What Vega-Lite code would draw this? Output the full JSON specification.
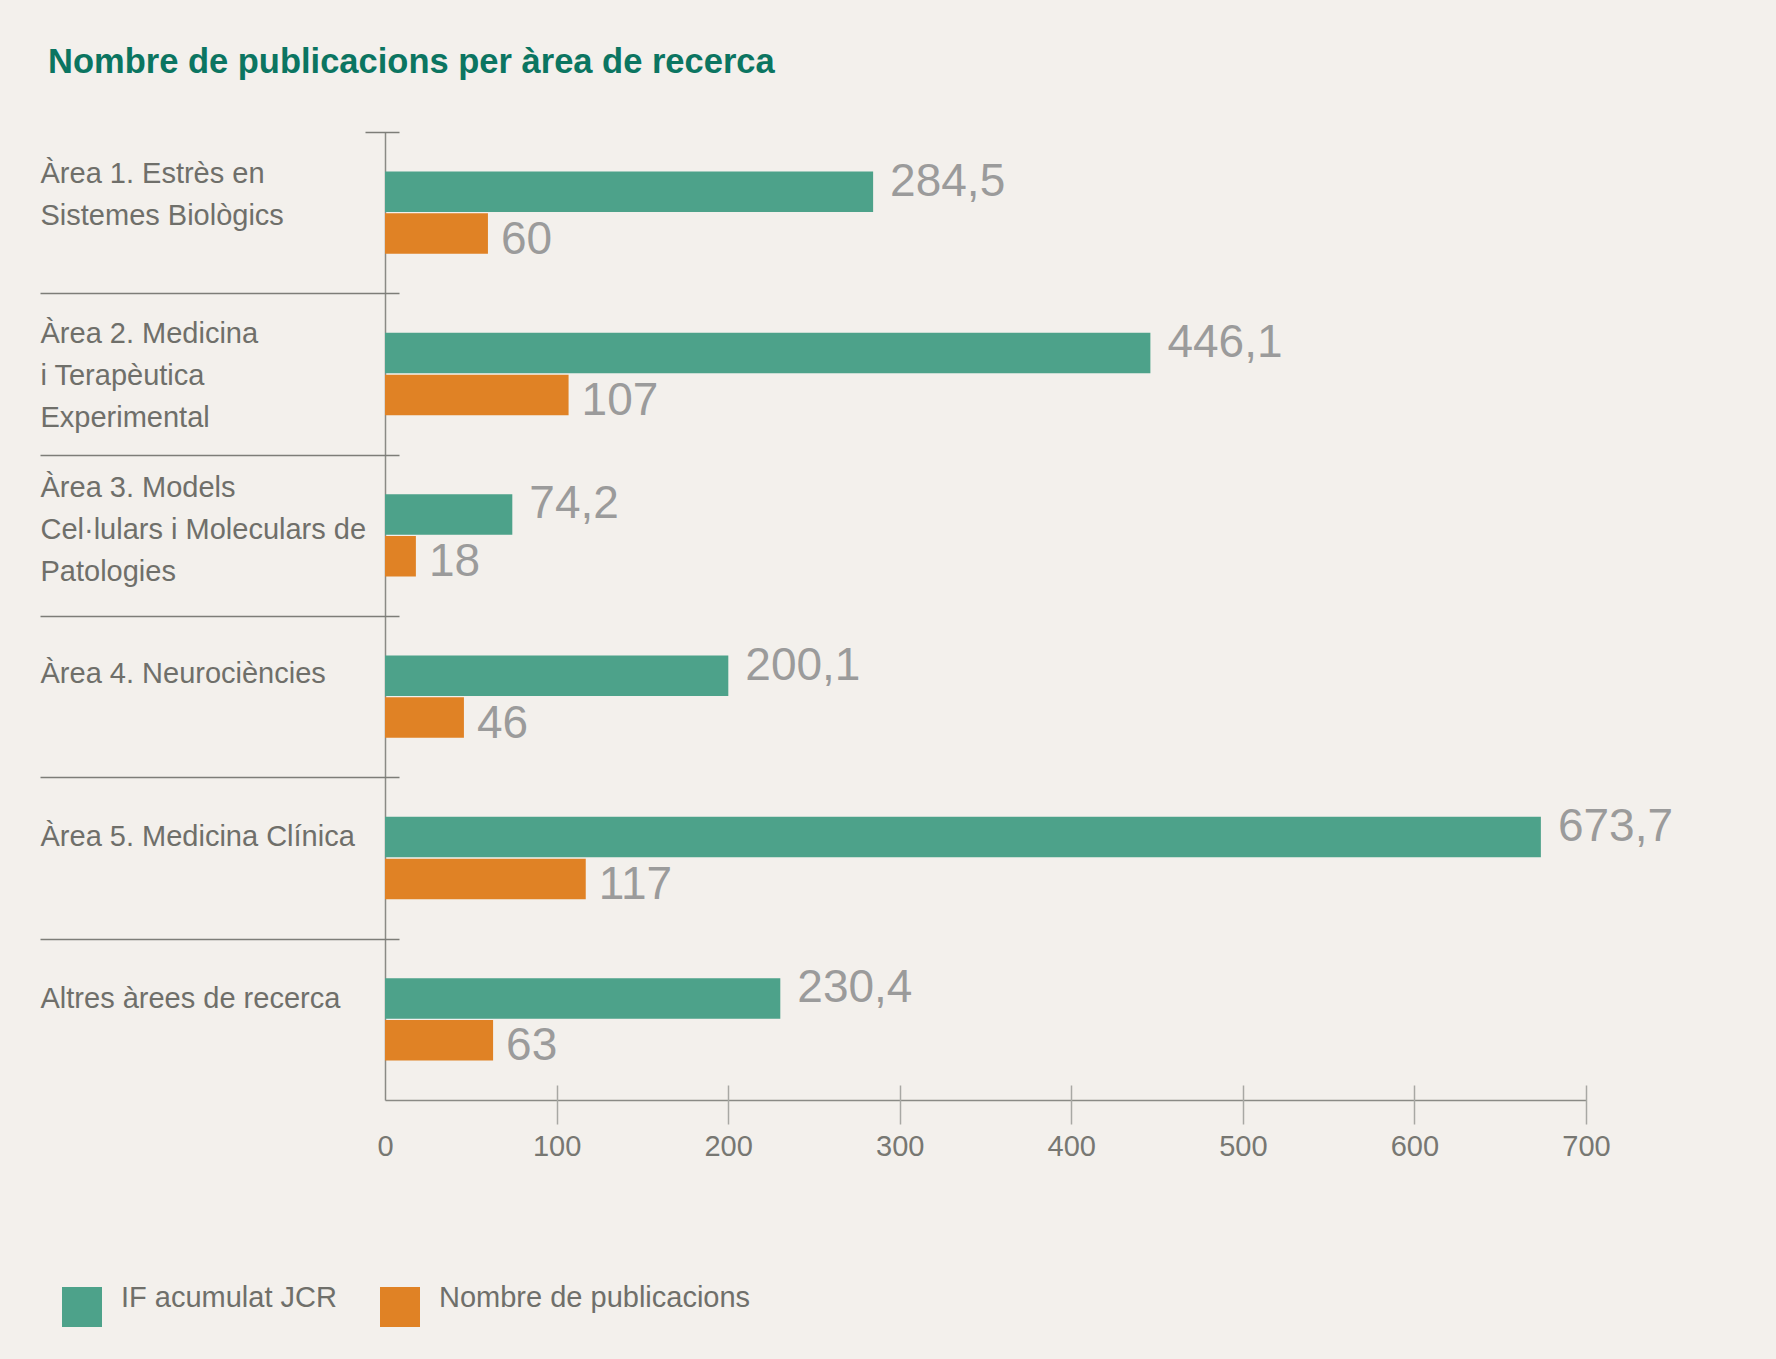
{
  "$schema": "https://vega.github.io/schema/vega-lite/v6.json",
  "autosize": {"type": "none"},
  "width": 1201,
  "height": 968,
  "padding": {"left": 385, "top": 132, "right": 190, "bottom": 259},
  "background": "#f3f0ec",
  "config": {
    "font": "Liberation Sans",
    "view": {"stroke": null},
    "locale": {"number": {"decimal": ",", "thousands": ".", "grouping": [3], "currency": ["", " €"]}}
  },
  "title": {
    "text": "Nombre de publicacions per àrea de recerca",
    "anchor": "start",
    "frame": "group",
    "dx": -337,
    "offset": 24,
    "baseline": "alphabetic",
    "font": "Liberation Sans",
    "fontSize": 34.5,
    "fontWeight": "bold",
    "color": "#0b7561"
  },
  "data": {
    "values": [
      {"area": "Àrea 1. Estrès en\nSistemes Biològics", "series": "IF acumulat JCR", "value": 284.5},
      {"area": "Àrea 1. Estrès en\nSistemes Biològics", "series": "Nombre de publicacions", "value": 60},
      {"area": "Àrea 2. Medicina\ni Terapèutica\nExperimental", "series": "IF acumulat JCR", "value": 446.1},
      {"area": "Àrea 2. Medicina\ni Terapèutica\nExperimental", "series": "Nombre de publicacions", "value": 107},
      {"area": "Àrea 3. Models\nCel·lulars i Moleculars de\nPatologies", "series": "IF acumulat JCR", "value": 74.2},
      {"area": "Àrea 3. Models\nCel·lulars i Moleculars de\nPatologies", "series": "Nombre de publicacions", "value": 18},
      {"area": "Àrea 4. Neurociències", "series": "IF acumulat JCR", "value": 200.1},
      {"area": "Àrea 4. Neurociències", "series": "Nombre de publicacions", "value": 46},
      {"area": "Àrea 5. Medicina Clínica", "series": "IF acumulat JCR", "value": 673.7},
      {"area": "Àrea 5. Medicina Clínica", "series": "Nombre de publicacions", "value": 117},
      {"area": "Altres àrees de recerca", "series": "IF acumulat JCR", "value": 230.4},
      {"area": "Altres àrees de recerca", "series": "Nombre de publicacions", "value": 63}
    ]
  },
  "layer": [
    {
      "mark": {"type": "bar"},
      "encoding": {
        "y": {
          "field": "area", "type": "nominal", "sort": null,
          "scale": {"paddingInner": 0.49, "paddingOuter": 0.245},
          "axis": {
            "orient": "left",
            "title": null, "domain": true, "domainColor": "#8a8a85", "domainWidth": 1.5,
            "ticks": false, "grid": false,
            "labelAlign": "left", "labelBaseline": "middle", "labelPadding": 345, "labelLimit": 400,
            "labelFontSize": 29, "labelColor": "#6f6f6a", "labelLineHeight": 42,
            "labelExpr": "split(datum.label, '\\n')",
            "labelOffset": {
              "condition": [
                {"test": "indexof(datum.value, 'Àrea 1') === 0", "value": -39},
                {"test": "indexof(datum.value, 'Àrea 2') === 0", "value": -40},
                {"test": "indexof(datum.value, 'Àrea 3') === 0", "value": -47},
                {"test": "indexof(datum.value, 'Àrea 4') === 0", "value": -23},
                {"test": "indexof(datum.value, 'Àrea 5') === 0", "value": -21}
              ],
              "value": -20
            }
          }
        },
        "x": {
          "field": "value", "type": "quantitative",
          "scale": {"domain": [0, 700], "nice": false},
          "axis": {
            "orient": "bottom",
            "title": null, "values": [0, 100, 200, 300, 400, 500, 600, 700],
            "ticks": false, "domain": true, "domainColor": "#8a8a85", "domainWidth": 1.5,
            "grid": false, "labelFontSize": 29, "labelColor": "#777772", "labelPadding": 32,
            "labelFlush": false, "labelOverlap": false
          }
        },
        "yOffset": {
          "field": "series", "type": "nominal",
          "sort": ["IF acumulat JCR", "Nombre de publicacions"],
          "scale": {"paddingInner": 0.03}
        },
        "color": {
          "field": "series", "type": "nominal",
          "sort": ["IF acumulat JCR", "Nombre de publicacions"],
          "scale": {"domain": ["IF acumulat JCR", "Nombre de publicacions"], "range": ["#4da28a", "#e08225"]},
          "legend": {
            "title": null, "orient": "none", "legendX": -323, "legendY": 1155,
            "direction": "horizontal", "symbolType": "square", "symbolSize": 1600,
            "symbolStrokeWidth": 0, "symbolOpacity": 1,
            "labelFontSize": 29, "labelColor": "#6f6f6a", "labelOffset": 19,
            "labelBaseline": "alphabetic",
            "columnPadding": 43, "padding": 0, "labelLimit": 400
          }
        }
      }
    },
    {
      "transform": [{"filter": "datum.series === 'IF acumulat JCR'"}],
      "mark": {"type": "text", "align": "left", "baseline": "alphabetic", "dx": 17, "dy": 4, "fontSize": 46, "color": "#9b9b9b"},
      "encoding": {
        "y": {
          "field": "area", "type": "nominal", "sort": null,
          "axis": {
            "orient": "left",
            "title": null, "domain": false, "labels": false, "ticks": true, "grid": false,
            "bandPosition": 0, "tickOffset": -39.5,
            "offset": -14, "tickColor": "#7d7d78", "tickWidth": 1.5,
            "tickSize": {"condition": {"test": "datum.index === 0", "value": 34}, "value": 359}
          }
        },
        "x": {"field": "value", "type": "quantitative", "axis": null},
        "yOffset": {"field": "series", "type": "nominal", "sort": ["IF acumulat JCR", "Nombre de publicacions"]},
        "text": {"field": "value", "type": "quantitative", "format": ".4~r"}
      }
    },
    {
      "transform": [{"filter": "datum.series === 'Nombre de publicacions'"}],
      "mark": {"type": "text", "align": "left", "baseline": "alphabetic", "dx": 13, "dy": 20, "fontSize": 46, "color": "#9b9b9b"},
      "encoding": {
        "y": {"field": "area", "type": "nominal", "sort": null, "axis": null},
        "x": {
          "field": "value", "type": "quantitative",
          "axis": {
            "orient": "bottom",
            "title": null, "values": [100, 200, 300, 400, 500, 600, 700],
            "domain": false, "labels": false, "ticks": true, "grid": false,
            "tickSize": 39, "offset": -15, "tickColor": "#a8a8a4", "tickWidth": 1.5
          }
        },
        "yOffset": {"field": "series", "type": "nominal", "sort": ["IF acumulat JCR", "Nombre de publicacions"]},
        "text": {"field": "value", "type": "quantitative", "format": ".4~r"}
      }
    }
  ],
  "resolve": {"axis": {"x": "independent", "y": "independent"}}
}
